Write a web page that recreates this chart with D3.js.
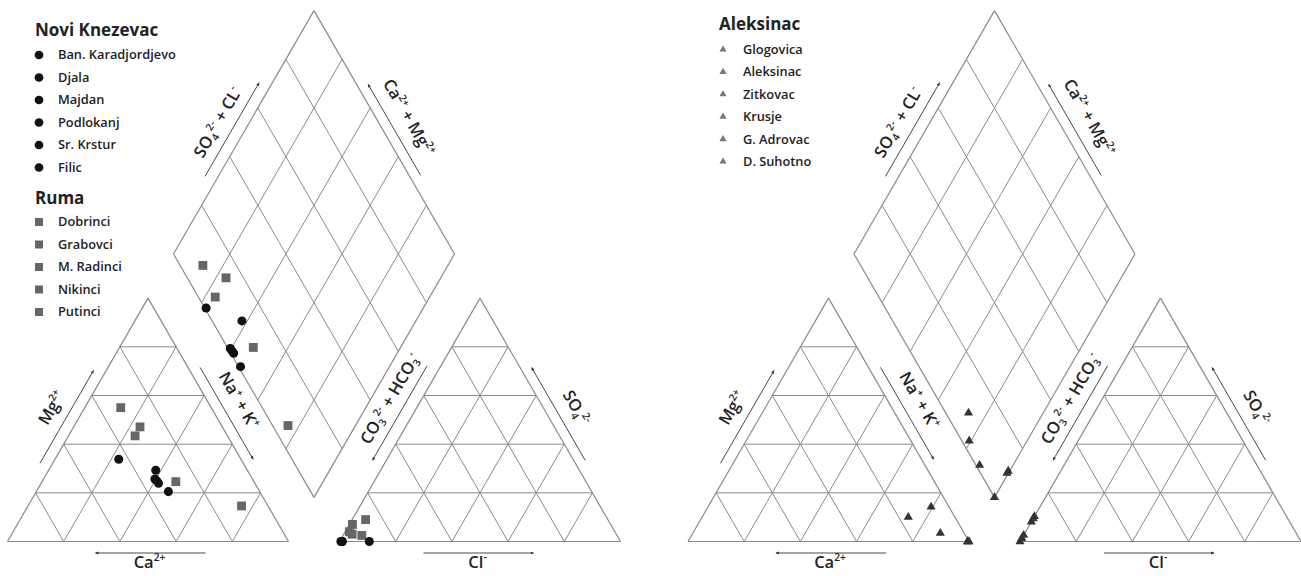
<!DOCTYPE html>
<html>
<head>
<meta charset="utf-8">
<script src="https://cdn.jsdelivr.net/npm/d3@7"></script>
<style>
  html, body { margin: 0; padding: 0; background: #fff; }
  svg { display: block; }
  text { font-family: "Open Sans", "Noto Sans", sans-serif; fill: #222; }
</style>
</head>
<body>
<svg id="chart" width="1301" height="576"></svg>
<script>
// ---------------- DATA (percent of meq) ----------------
// Novi Knezevac (circles)
const nkNames = ["Ban. Karadjordjevo", "Djala", "Majdan", "Podlokanj", "Sr. Krstur", "Filic"];
const nkMg   = [33.8, 29.3, 24.9, 23.9, 20.5, 25.7];
const nkNaK  = [22.7, 38.1, 40.7, 41.8, 47.0, 39.6];
const nkSO4  = [0, 0, 0, 0, 0, 0];
const nkCl   = [0.5, 10.6, 0.9, 1.0, 0.7, 0.8];

// Ruma (squares)
const rumaNames = ["Dobrinci", "Grabovci", "M. Radinci", "Nikinci", "Putinci"];
const rumaMg  = [55.0, 47.1, 43.4, 24.6, 14.6];
const rumaNaK = [12.8, 23.6, 23.7, 47.6, 76.0];
const rumaSO4 = [7.0, 9.0, 3.0, 2.5, 4.0];
const rumaCl  = [1.1, 4.8, 3.0, 6.7, 1.5];

// Aleksinac (triangles)
const alekNames = ["Glogovica", "Aleksinac", "Zitkovac", "Krusje", "G. Adrovac", "D. Suhotno"];
const alekMg  = [10.0, 14.2, 3.4, 0, 0, 0];
const alekNaK = [73.4, 79.4, 88.1, 100, 99.5, 99.5];
const alekSO4 = [8.1, 2.6, 1.3, 0, 10.3, 9.4];
const alekCl  = [0, 0, 0, 0, 0, 0];

const gridTicks = [20, 40, 60, 80];

// ---------------- GEOMETRY ----------------
const svg = d3.select("#chart");
const S = 281;                 // side of triangles / diamond
const GAP = 51;                // gap between triangles
const BASE_Y = 541.5;
const SIN = Math.sqrt(3) / 2;
const len = d3.scaleLinear().domain([0, 100]).range([0, S]);

function piper(ox) {
  const ax0 = ox + S + GAP;
  const B = [ox + S + GAP / 2, BASE_Y - GAP * SIN];
  return {
    cat: (mg, nak) => [ox + len(nak + mg / 2), BASE_Y - len(mg) * SIN],
    an: (so4, cl) => [ax0 + len(cl + so4 / 2), BASE_Y - len(so4) * SIN],
    dia: (camg, socl) => [B[0] + (len(socl) - len(camg)) * 0.5, B[1] - (len(socl) + len(camg)) * SIN],
    ox, ax0, B
  };
}

const defs = svg.append("defs");
defs.append("marker").attr("id", "arr")
  .attr("viewBox", "0 -3 6 6").attr("refX", 5).attr("refY", 0)
  .attr("markerWidth", 4).attr("markerHeight", 4)
  .attr("orient", "auto-start-reverse")
  .append("path").attr("d", "M0,-2.5L6,0L0,2.5Z").attr("fill", "#333");

const lineGen = d3.line();

function drawFrame(P) {
  const g = svg.append("g");
  const stroke = "#8a8a8a";
  const seg = (a, b, w) => g.append("path").attr("d", lineGen([a, b]))
      .attr("stroke", stroke).attr("stroke-width", w || 1).attr("fill", "none");
  // cation triangle
  seg(P.cat(0, 0), P.cat(0, 100), 1.2);
  seg(P.cat(0, 0), P.cat(100, 0), 1.2);
  seg(P.cat(100, 0), P.cat(0, 100), 1.2);
  gridTicks.forEach(t => {
    seg(P.cat(t, 0), P.cat(t, 100 - t));          // const Mg
    seg(P.cat(0, t), P.cat(100 - t, t));          // const Na+K
    seg(P.cat(0, 100 - t), P.cat(100 - t, 0));    // const Ca
  });
  // anion triangle
  seg(P.an(0, 0), P.an(0, 100), 1.2);
  seg(P.an(0, 0), P.an(100, 0), 1.2);
  seg(P.an(100, 0), P.an(0, 100), 1.2);
  gridTicks.forEach(t => {
    seg(P.an(t, 0), P.an(t, 100 - t));
    seg(P.an(0, t), P.an(100 - t, t));
    seg(P.an(0, 100 - t), P.an(100 - t, 0));
  });
  // diamond
  seg(P.dia(0, 0), P.dia(100, 0), 1.2);
  seg(P.dia(100, 0), P.dia(100, 100), 1.2);
  seg(P.dia(100, 100), P.dia(0, 100), 1.2);
  seg(P.dia(0, 100), P.dia(0, 0), 1.2);
  gridTicks.forEach(t => {
    seg(P.dia(t, 0), P.dia(t, 100));
    seg(P.dia(0, t), P.dia(100, t));
  });
  return g;
}

function richText(g, x, y, angle, parts, size) {
  const t = g.append("text")
    .attr("transform", `translate(${x},${y}) rotate(${angle})`)
    .attr("text-anchor", "middle")
    .attr("dy", size * 0.35)
    .attr("font-size", size).attr("font-weight", 600);
  let cur = 0;
  parts.forEach(([txt, kind]) => {
    let target = 0, fs = size;
    if (kind === "sup") { target = -size * 0.4; fs = size * 0.62; }
    if (kind === "sub") { target = size * 0.2; fs = size * 0.62; }
    t.append("tspan").attr("dy", target - cur).attr("font-size", fs).text(txt);
    cur = target;
  });
}

// edge label: start point, unit direction, outward normal
function edgeLabel(g, p0, u, n, angle, parts, headAtEnd, a1, a2, am, off1, off2) {
  const pt = (a, o) => [p0[0] + u[0] * a + n[0] * o, p0[1] + u[1] * a + n[1] * o];
  const l = g.append("path").attr("d", lineGen([pt(a1, off1), pt(a2, off1)]))
    .attr("stroke", "#333").attr("stroke-width", 0.9).attr("fill", "none");
  if (headAtEnd) l.attr("marker-end", "url(#arr)"); else l.attr("marker-start", "url(#arr)");
  const c = pt(am, off2);
  richText(g, c[0], c[1], angle, parts, 16.5);
}

function drawLabels(P) {
  const g = svg.append("g");
  const UR = [0.5, -SIN], DR = [0.5, SIN];
  const nL = [-SIN, -0.5], nR = [SIN, -0.5];
  // cation
  edgeLabel(g, P.cat(0, 0), UR, nL, -60, [["Mg"], ["2+", "sup"]], true, 84, 191, 138, 11, 23);
  edgeLabel(g, P.cat(100, 0), DR, nR, 60, [["Na"], ["+", "sup"], [" + K"], ["+", "sup"]], true, 86, 192, 134, 10.5, 22);
  edgeLabel(g, P.cat(0, 0), [1, 0], [0, 1], 0, [["Ca"], ["2+", "sup"]], false, 88, 198, 142, 11.5, 26);
  // anion
  edgeLabel(g, P.an(0, 0), UR, nL, -60, [["CO"], ["3", "sub"], ["2-", "sup"], [" + HCO"], ["3", "sub"], ["-", "sup"]], false, 87, 196, 149, 12, 22);
  edgeLabel(g, P.an(100, 0), DR, nR, 60, [["SO"], ["4", "sub"], ["2-", "sup"]], false, 86, 193, 143, 10, 23);
  edgeLabel(g, P.an(0, 0), [1, 0], [0, 1], 0, [["Cl"], ["-", "sup"]], true, 84, 194, 138, 11.5, 26);
  // diamond
  edgeLabel(g, P.dia(100, 0), UR, nL, -60, [["SO"], ["4", "sub"], ["2-", "sup"], [" + CL"], ["-", "sup"]], true, 83, 191, 136, 11.5, 22);
  edgeLabel(g, P.dia(100, 100), DR, nR, 60, [["Ca"], ["2+", "sup"], [" + Mg"], ["2+", "sup"]], false, 91, 196, 140, 10, 23);
}

function drawPoints(P, mg, nak, so4, cl, sym, color, size) {
  const g = svg.append("g");
  const idx = d3.range(mg.length);
  const shape = d3.symbol().type(sym).size(size);
  const put = pts => g.selectAll(null).data(pts).join("path")
    .attr("d", shape).attr("fill", color)
    .attr("transform", d => `translate(${d[0]},${d[1]})`);
  put(idx.map(i => P.cat(mg[i], nak[i])));
  put(idx.map(i => P.an(so4[i], cl[i])));
  put(idx.map(i => P.dia(100 - nak[i], so4[i] + cl[i])));
}

function legend(x, yTitle, title, names, sym, color, size, y0, dy, textX) {
  const g = svg.append("g");
  g.append("text").attr("x", x).attr("y", yTitle).attr("font-size", 17).attr("font-weight", 700).text(title);
  const shape = d3.symbol().type(sym).size(size);
  names.forEach((nm, i) => {
    const y = y0 + i * dy;
    g.append("path").attr("d", shape).attr("fill", color).attr("transform", `translate(${x + 4},${y})`);
    g.append("text").attr("x", textX).attr("y", y).attr("dy", "0.35em")
      .attr("font-size", 12.8).attr("font-weight", 600).text(nm);
  });
}

// ---------------- DRAW ----------------
const PL = piper(7.5);
const PR = piper(688);

drawFrame(PL); drawFrame(PR);
drawLabels(PL); drawLabels(PR);

drawPoints(PL, rumaMg, rumaNaK, rumaSO4, rumaCl, d3.symbolSquare, "#666", 78);
drawPoints(PL, nkMg, nkNaK, nkSO4, nkCl, d3.symbolCircle, "#111", 64);
drawPoints(PR, alekMg, alekNaK, alekSO4, alekCl, d3.symbolTriangle, "#333", 36);

legend(35, 36, "Novi Knezevac", nkNames, d3.symbolCircle, "#111", 60, 55, 22.5, 58);
legend(35, 204, "Ruma", rumaNames, d3.symbolSquare, "#666", 64, 222, 22.5, 58);
legend(719, 30, "Aleksinac", alekNames, d3.symbolTriangle, "#777", 22, 49.5, 22.4, 743);
</script>
</body>
</html>
